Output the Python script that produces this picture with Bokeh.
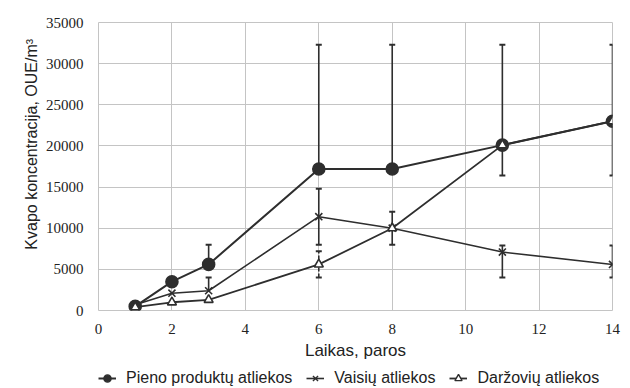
from bokeh.plotting import figure
from bokeh.layouts import column
from bokeh.models import Legend, LegendItem, FixedTicker, ColumnDataSource, Range1d
from bokeh.embed import file_html
from bokeh.resources import INLINE

# ---- data ----
days = [1, 2, 3, 6, 8, 11, 14]

pieno = [500, 3500, 5600, 17200, 17200, 20100, 23000]
pieno_hi = [500, 3500, 8000, 32300, 32300, 32300, 32300]
pieno_lo = [500, 3500, 5600, 17200, 17200, 16400, 16400]

vaisiu = [700, 2100, 2400, 11400, 10000, 7100, 5600]
vaisiu_hi = [700, 2100, 4000, 14800, 12000, 7900, 7900]
vaisiu_lo = [700, 2100, 2400, 8000, 8000, 4000, 4000]

darz = [400, 1000, 1300, 5600, 10000, 20100, 23000]
darz_hi = [400, 1000, 1300, 7200, 10000, 20100, 23000]
darz_lo = [400, 1000, 1300, 4000, 10000, 20100, 23000]

x_ticks = [0, 2, 4, 6, 8, 10, 12, 14]
y_ticks = [0, 5000, 10000, 15000, 20000, 25000, 30000, 35000]

labels = ["Pieno produktų atliekos", "Vaisių atliekos", "Daržovių atliekos"]
x_label = "Laikas, paros"
y_label = "\u00a0" * 10 + "Kvapo koncentracija, OUE/m³"

INK = "#2e2e2e"
GRID = "#c4c4c4"

p = figure(frame_width=514, frame_height=288, x_range=(0, 14), y_range=(0, 35000),
           output_backend="svg", toolbar_location=None,
           min_border_left=98, min_border_right=10, min_border_top=22,
           min_border_bottom=58)
p.outline_line_color = GRID
p.background_fill_color = "white"
p.border_fill_color = "white"

for ax in (p.xaxis[0], p.yaxis[0]):
    ax.axis_line_color = None
    ax.major_tick_line_color = None
    ax.minor_tick_line_color = None
    ax.major_tick_in = 0
    ax.major_tick_out = 0
    ax.major_label_text_font = "Liberation Serif"
    ax.major_label_text_font_size = "15px"
    ax.major_label_text_color = "#222222"
    ax.axis_label_text_font = "Liberation Sans"
    ax.axis_label_text_font_style = "normal"
    ax.axis_label_text_color = "#222222"

p.xaxis.ticker = FixedTicker(ticks=x_ticks)
p.yaxis.ticker = FixedTicker(ticks=y_ticks)
p.xaxis.axis_label = x_label
p.yaxis.axis_label = y_label
p.xaxis.axis_label_text_font_size = "17px"
p.yaxis.axis_label_text_font_size = "16px"
p.xaxis.major_label_standoff = 13
p.yaxis.major_label_standoff = 15
p.xaxis.axis_label_standoff = 4
p.yaxis.axis_label_standoff = 3

p.xgrid.ticker = FixedTicker(ticks=x_ticks)
p.ygrid.ticker = FixedTicker(ticks=y_ticks)
p.xgrid.grid_line_color = GRID
p.ygrid.grid_line_color = GRID


def error_bars(vals, hi, lo, dash):
    xs0, ys0, ys1 = [], [], []
    cx, cy = [], []
    for x, v, h, l in zip(days, vals, hi, lo):
        if h != l:
            xs0.append(x); ys0.append(l); ys1.append(h)
        if h != v:
            cx.append(x); cy.append(h)
        if l != v:
            cx.append(x); cy.append(l)
    if xs0:
        p.segment(x0=xs0, y0=ys0, x1=xs0, y1=ys1, line_color=INK,
                  line_width=1.6, line_dash=dash)
    if cx:
        p.scatter(x=cx, y=cy, marker="dash", size=6, line_color=INK,
                  line_width=2)


error_bars(pieno, pieno_hi, pieno_lo, "solid")
error_bars(vaisiu, vaisiu_hi, vaisiu_lo, "solid")
error_bars(darz, darz_hi, darz_lo, "4 2")

src = ColumnDataSource(dict(x=days, pieno=pieno, vaisiu=vaisiu, darz=darz))

STY = [
    dict(lw=2.0, marker="circle", size=12, fill=INK),
    dict(lw=1.6, marker="x", size=10, fill=INK),
    dict(lw=1.8, marker="triangle", size=9, fill="white"),
]
cols = ["pieno", "vaisiu", "darz"]
for col, st in zip(cols, STY):
    p.line("x", col, source=src, line_color=INK, line_width=st["lw"])
    p.scatter("x", col, source=src, marker=st["marker"], size=st["size"],
              fill_color=st["fill"], line_color=INK, line_width=1.6)

# ---- legend strip (separate figure under the chart) ----
# its ranges lie outside the data, so only the legend entries are visible
q = figure(width=622, height=20, x_range=Range1d(100, 101),
           y_range=Range1d(100000, 100001),
           x_axis_type=None, y_axis_type=None,
           output_backend="svg", toolbar_location=None, min_border=0)
q.grid.visible = False
q.outline_line_color = None
items = []
for col, lab, st in zip(cols, labels, STY):
    ln = q.line("x", col, source=src, line_color=INK, line_width=st["lw"])
    mk = q.scatter("x", col, source=src, marker=st["marker"],
                   size=st["size"] - 2, fill_color=st["fill"],
                   line_color=INK, line_width=1.4)
    items.append(LegendItem(label=lab, renderers=[ln, mk]))

legend = Legend(items=items, location=(0, 0), orientation="horizontal")
legend.label_text_font = "Liberation Sans"
legend.label_text_font_size = "16px"
legend.label_text_color = "#222222"
legend.glyph_width = 18
legend.glyph_height = 20
legend.label_height = 20
legend.label_standoff = 10
legend.spacing = 14
legend.padding = 0
legend.margin = 0
legend.border_line_color = None
legend.background_fill_alpha = 0
q.add_layout(legend)

layout = column(p, q, spacing=0)
open("out.html", "w").write(file_html(layout, INLINE))
